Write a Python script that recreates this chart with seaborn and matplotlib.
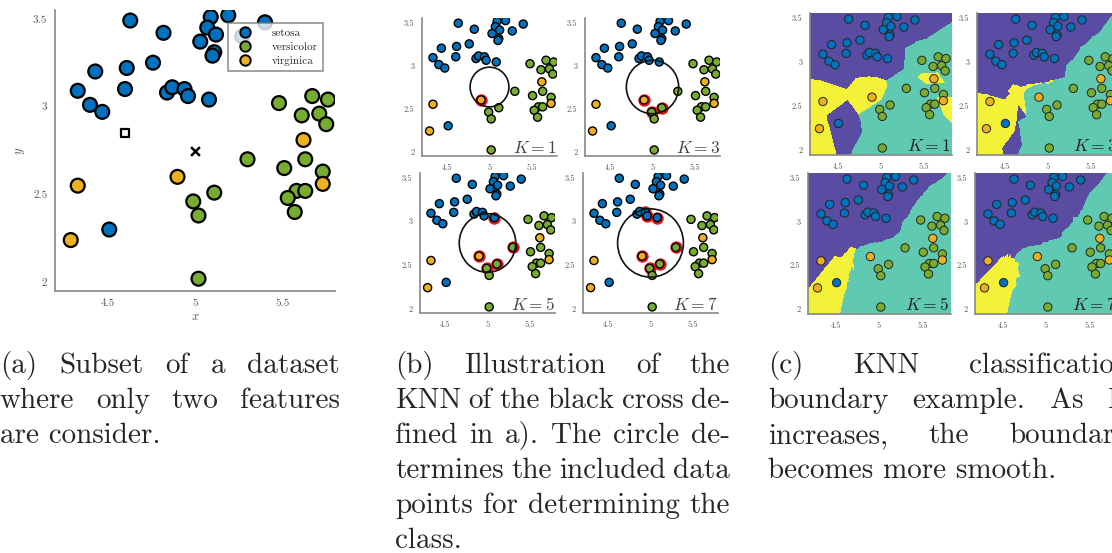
import numpy as np
import pandas as pd
import matplotlib
matplotlib.use('Agg')
import matplotlib.pyplot as plt
import seaborn as sns
from matplotlib.colors import ListedColormap
from matplotlib.patches import Circle

#------------------DATA-------------------------------------------
setosa_x = [4.63, 4.82, 5.09, 5.19, 5.07, 5.12, 5.03, 5.11, 5.10, 5.40, 5.27, 4.76,
            4.43, 4.61, 4.33, 4.60, 4.40, 4.47, 4.84, 4.87, 4.94, 4.96, 5.08, 4.51]
setosa_y = [3.49, 3.42, 3.51, 3.52, 3.45, 3.41, 3.37, 3.31, 3.29, 3.48, 3.40, 3.25,
            3.20, 3.22, 3.09, 3.10, 3.01, 2.97, 3.08, 3.11, 3.10, 3.06, 3.04, 2.30]

versicolor_x = [5.48, 5.67, 5.76, 5.61, 5.71, 5.75, 5.30, 5.63, 5.51, 5.73, 5.58,
                5.63, 5.53, 5.57, 5.11, 4.99, 5.02, 5.02]
versicolor_y = [3.02, 3.06, 3.04, 2.95, 2.96, 2.90, 2.70, 2.70, 2.65, 2.63, 2.52,
                2.52, 2.48, 2.40, 2.51, 2.46, 2.38, 2.02]

virginica_x = [5.62, 5.73, 4.90, 4.33, 4.29]
virginica_y = [2.81, 2.56, 2.60, 2.55, 2.24]

species_names = ['setosa', 'versicolor', 'virginica']
query_x, query_y = 5.0, 2.75      # black cross
square_x, square_y = 4.60, 2.85   # open square
k_values = [1, 3, 5, 7]
circle_radii = [0.23, 0.31, 0.335, 0.39]

point_colors = ['#0072BD', '#77AC30', '#EDB120']
region_colors = ['#5a4ca3', '#5fc9b1', '#f4f238']

caption_a = ['(a) Subset of a dataset', 'where only two features', 'are consider.']
caption_b = ['(b) Illustration of the', 'KNN of the black cross de-',
             'fined in a). The circle de-', 'termines the included data',
             'points for determining the', 'class.']
caption_c = ['(c) KNN classification', 'boundary example.  As K',
             'increases, the boundary', 'becomes more smooth.']

df = pd.DataFrame({
    'x': setosa_x + versicolor_x + virginica_x,
    'y': setosa_y + versicolor_y + virginica_y,
    'species': (['setosa'] * len(setosa_x) + ['versicolor'] * len(versicolor_x)
                + ['virginica'] * len(virginica_x)),
})
df['label'] = df['species'].map({s: i for i, s in enumerate(species_names)})
pts = df[['x', 'y']].to_numpy()
labels = df['label'].to_numpy()

#------------------STYLE-------------------------------------------
sns.set_style('white')
plt.rcParams['font.family'] = ['cmr10', 'DejaVu Serif']
plt.rcParams['mathtext.fontset'] = 'cm'
plt.rcParams['axes.formatter.use_mathtext'] = True

W, H = 1112, 553
fig = plt.figure(figsize=(W / 100, H / 100), dpi=100)


def px_axes(left, top, right, bottom):
    return fig.add_axes([left / W, 1 - bottom / H, (right - left) / W, (bottom - top) / H])


def style_axes(ax, xlim, ylim, tick_size):
    ax.set_xlim(*xlim)
    ax.set_ylim(*ylim)
    ax.set_xticks([4.5, 5, 5.5])
    ax.set_yticks([2, 2.5, 3, 3.5])
    ax.set_xticklabels(['4.5', '5', '5.5'])
    ax.set_yticklabels(['2', '2.5', '3', '3.5'])
    for side in ['top', 'right']:
        ax.spines[side].set_visible(False)
    for side in ['left', 'bottom']:
        ax.spines[side].set_color('#888888')
        ax.spines[side].set_linewidth(1.2)
    ax.tick_params(length=2.5, width=0.8, color='#888888', labelsize=tick_size,
                   labelcolor='#555555', pad=3)
    ax.set_xlabel('')
    ax.set_ylabel('')


def knn_order(qx, qy):
    d = np.hypot(pts[:, 0] - qx, pts[:, 1] - qy)
    return np.argsort(d)


#------------------PANEL A-------------------------------------------
ax_a = px_axes(55, 10, 335, 291)
sns.scatterplot(data=df, x='x', y='y', hue='species', palette=point_colors, s=100,
                edgecolor='black', linewidth=1.6, ax=ax_a, zorder=3)
ax_a.scatter([square_x], [square_y], marker='s', s=28, facecolor='white',
             edgecolor='black', linewidth=1.6, zorder=4)
ax_a.scatter([query_x], [query_y], marker='x', s=40, color='black', linewidth=1.8, zorder=4)
style_axes(ax_a, (4.2, 5.8), (1.95, 3.55), 8)
ax_a.set_xlabel('$x$', fontsize=9, color='#555555', labelpad=2)
ax_a.set_ylabel('$y$', fontsize=9, color='#555555', labelpad=4)
sns.move_legend(ax_a, 'upper right', bbox_to_anchor=(0.957, 0.954), title=None,
                frameon=True, fancybox=False, fontsize=8, borderaxespad=0,
                markerscale=0.75, handletextpad=1.4, borderpad=0.5, labelspacing=0.35)
leg = ax_a.get_legend()
leg.get_frame().set_edgecolor('#777777')
leg.get_frame().set_linewidth(1.2)
leg.set_zorder(10)
for h in leg.legend_handles:
    if hasattr(h, 'set_markeredgecolor'):
        h.set_markeredgecolor('black')
        h.set_markeredgewidth(1.4)

#------------------PANEL B-------------------------------------------
b_boxes = [(422, 18, 557, 156), (585, 18, 720, 156), (420, 173, 555, 313), (583, 173, 718, 313)]
for k, r, box in zip(k_values, circle_radii, b_boxes):
    ax = px_axes(*box)
    near = knn_order(query_x, query_y)[:k]
    ax.scatter(pts[near, 0], pts[near, 1], s=80, color='#e3161c', linewidth=0, zorder=2)
    sns.scatterplot(data=df, x='x', y='y', hue='species', palette=point_colors, s=34,
                    edgecolor='black', linewidth=1.0, ax=ax, legend=False, zorder=3)
    ax.add_patch(Circle((query_x, query_y), r, fill=False, edgecolor='#111111',
                        linewidth=1.2, zorder=4))
    style_axes(ax, (4.2, 5.8), (1.95, 3.55), 6)
    ax.text(1.0, 0.025, '$K = %d$' % k, transform=ax.transAxes, ha='right',
            va='baseline', fontsize=12.5, color='#444444')

#------------------PANEL C-------------------------------------------
c_boxes = [(810, 13, 952, 155), (977, 13, 1119, 155), (808, 173, 951, 314), (975, 173, 1118, 314)]
xlim_c, ylim_c = (4.18, 5.83), (1.94, 3.56)
gx = np.linspace(xlim_c[0], xlim_c[1], 400)
gy = np.linspace(ylim_c[0], ylim_c[1], 400)
GX, GY = np.meshgrid(gx, gy)
grid = np.column_stack([GX.ravel(), GY.ravel()])
dist = np.hypot(grid[:, None, 0] - pts[None, :, 0], grid[:, None, 1] - pts[None, :, 1])
order = np.argsort(dist, axis=1)
region_cmap = ListedColormap(region_colors)

for k, box in zip(k_values, c_boxes):
    ax = px_axes(*box)
    nl = labels[order[:, :k]]
    score = np.zeros((grid.shape[0], 3))
    for rank in range(k):
        score[np.arange(grid.shape[0]), nl[:, rank]] += 1 + 1e-3 * (k - rank)
    pred = score.argmax(axis=1).reshape(GX.shape)
    ax.imshow(pred, origin='lower', extent=[*xlim_c, *ylim_c], aspect='auto',
              interpolation='nearest', cmap=region_cmap, vmin=-0.5, vmax=2.5, zorder=1)
    sns.scatterplot(data=df, x='x', y='y', hue='species', palette=point_colors, s=36,
                    edgecolor='#222222', linewidth=0.7, ax=ax, legend=False, zorder=3)
    style_axes(ax, xlim_c, ylim_c, 6)
    ax.text(0.99, 0.025, '$K = %d$' % k, transform=ax.transAxes, ha='right',
            va='baseline', fontsize=12.5, color='#222222', zorder=5)

#------------------CAPTIONS-------------------------------------------
renderer = fig.canvas.get_renderer()


def caption(lines, left, right, first_baseline, size=21, step=35):
    for i, line in enumerate(lines):
        y = 1 - (first_baseline + i * step) / H
        words = line.split()
        if i == len(lines) - 1:
            fig.text(left / W, y, line, fontsize=size, va='baseline', ha='left')
            continue
        arts = [fig.text(0, y, w, fontsize=size, va='baseline', ha='left') for w in words]
        widths = [a.get_window_extent(renderer).width for a in arts]
        gap = (right - left - sum(widths)) / (len(words) - 1)
        x = left
        for a, w in zip(arts, widths):
            a.set_x(x / W)
            x += w + gap


caption(caption_a, 0, 340, 373)
caption(caption_b, 395, 730, 373)
caption(caption_c, 768, 1130, 373)

fig.savefig('out.png', dpi=100)
